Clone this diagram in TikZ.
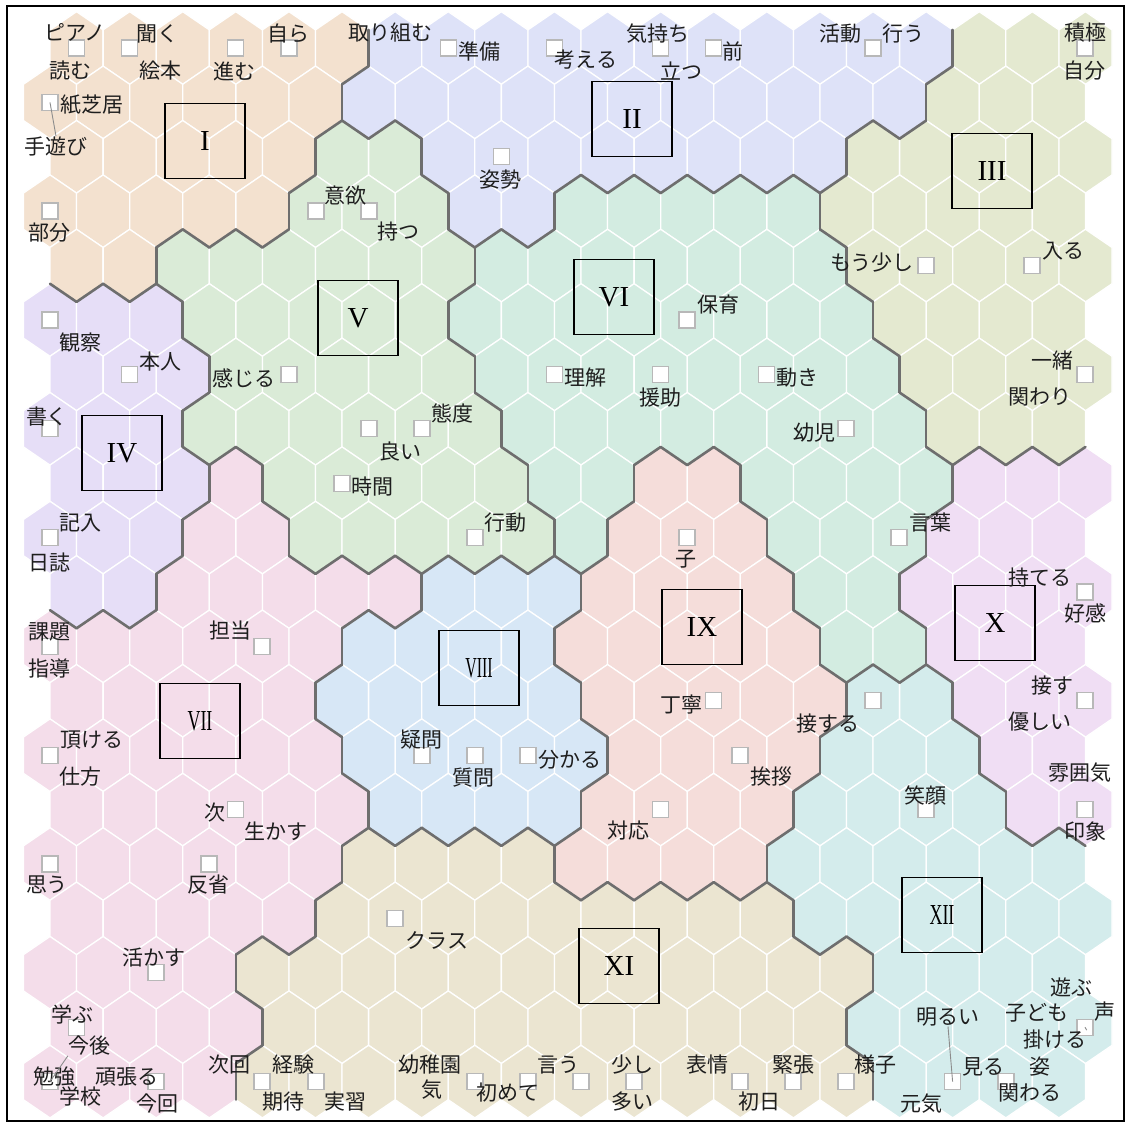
\documentclass[tikz,border=0pt]{standalone}
\usepackage{fontspec}
\setmainfont{Liberation Serif}
\newfontfamily\jp{Noto Sans CJK JP}
\usepackage{graphicx}

\definecolor{k1}{RGB}{243,225,207}
\definecolor{k2}{RGB}{222,226,248}
\definecolor{k3}{RGB}{228,233,208}
\definecolor{k4}{RGB}{230,222,247}
\definecolor{k5}{RGB}{218,235,215}
\definecolor{k6}{RGB}{211,236,225}
\definecolor{k7}{RGB}{244,221,234}
\definecolor{k8}{RGB}{215,231,246}
\definecolor{k9}{RGB}{245,221,218}
\definecolor{k10}{RGB}{240,222,244}
\definecolor{k11}{RGB}{235,229,209}
\definecolor{k12}{RGB}{212,236,236}
\definecolor{bnd}{RGB}{110,110,110}
\definecolor{txt}{RGB}{30,30,30}

\newcommand\setrow[2]{\foreach \v [count=\n] in {#2}{\expandafter\xdef\csname cl@#1@\n\endcsname{\v}}}
\newcommand\getcl[2]{\ifcsname cl@#1@#2\endcsname\csname cl@#1@#2\endcsname\else 0\fi}

\setrow{1}{1,1,1,1,1,1,2,2,2,2,2,2,2,2,2,2,2,3,3,3}
\setrow{2}{1,1,1,1,1,1,2,2,2,2,2,2,2,2,2,2,2,3,3,3}
\setrow{3}{1,1,1,1,1,5,5,2,2,2,2,2,2,2,2,3,3,3,3,3}
\setrow{4}{1,1,1,1,1,5,5,5,2,2,6,6,6,6,6,3,3,3,3,3}
\setrow{5}{1,1,5,5,5,5,5,5,6,6,6,6,6,6,6,3,3,3,3,3}
\setrow{6}{4,4,4,5,5,5,5,5,6,6,6,6,6,6,6,6,3,3,3,3}
\setrow{7}{4,4,4,5,5,5,5,5,6,6,6,6,6,6,6,6,3,3,3,3}
\setrow{8}{4,4,4,5,5,5,5,5,5,6,6,6,6,6,6,6,6,3,3,3}
\setrow{9}{4,4,4,7,5,5,5,5,5,6,6,9,9,6,6,6,6,10,10,10}
\setrow{10}{4,4,4,7,7,5,5,5,5,5,6,9,9,9,6,6,6,10,10,10}
\setrow{11}{4,4,7,7,7,7,7,8,8,8,9,9,9,9,6,6,10,10,10,10}
\setrow{12}{7,7,7,7,7,7,8,8,8,8,9,9,9,9,9,6,6,10,10,10}
\setrow{13}{7,7,7,7,7,8,8,8,8,8,9,9,9,9,9,12,12,10,10,10}
\setrow{14}{7,7,7,7,7,7,8,8,8,8,8,9,9,9,9,12,12,12,10,10}
\setrow{15}{7,7,7,7,7,7,8,8,8,8,9,9,9,9,12,12,12,12,10,10}
\setrow{16}{7,7,7,7,7,7,11,11,11,11,9,9,9,9,12,12,12,12,12,12}
\setrow{17}{7,7,7,7,7,11,11,11,11,11,11,11,11,11,12,12,12,12,12,12}
\setrow{18}{7,7,7,7,11,11,11,11,11,11,11,11,11,11,11,11,12,12,12,12}
\setrow{19}{7,7,7,7,11,11,11,11,11,11,11,11,11,11,11,12,12,12,12,12}
\setrow{20}{7,7,7,7,11,11,11,11,11,11,11,11,11,11,11,11,12,12,12,12}

\tikzset{
  bline/.style={draw=bnd, line width=2.6pt, line cap=round},
  gline/.style={draw=white, line width=1.3pt},
  lbl/.style={font=\jp\fontsize{21}{21}\selectfont, text=txt, inner sep=0pt},
  sq/.style={draw=black!28, fill=white, line width=1.3pt, minimum size=16pt, inner sep=0pt},
  nbox/.style={draw=black, line width=1.1pt, minimum width=80pt, minimum height=75pt, font=\fontsize{29}{29}\selectfont, inner sep=0pt, text=black},
  lead/.style={draw=black!45, line width=0.9pt}
}

\begin{document}
\begin{tikzpicture}[x=1pt,y=1pt]
\useasboundingbox (0,0) rectangle (1128,-1123);
\fill[white] (0,0) rectangle (1128,-1123);
% cells
\foreach \r in {1,...,20}{
  \foreach \cc in {1,...,20}{
    \pgfmathsetmacro\px{50+53.1*(\cc-1)+26.55*mod(\r,2)}
    \pgfmathsetmacro\py{-48-54.4*(\r-1)}
    \edef\kk{\getcl{\r}{\cc}}
    \path[fill=k\kk, gline] (\px,\py) ++(0,36.3) -- ++(26.55,-18.15) -- ++(0,-36.3) -- ++(-26.55,-18.15) -- ++(-26.55,18.15) -- ++(0,36.3) -- cycle;
  }
}
% cluster boundaries
\foreach \r in {1,...,20}{
  \foreach \cc in {1,...,20}{
    \pgfmathsetmacro\px{50+53.1*(\cc-1)+26.55*mod(\r,2)}
    \pgfmathsetmacro\py{-48-54.4*(\r-1)}
    \edef\kk{\getcl{\r}{\cc}}
    \pgfmathtruncatemacro\cnr{\cc+1}
    \pgfmathtruncatemacro\rdn{\r+1}
    \ifodd\r
      \edef\clr{\cnr}\edef\cll{\cc}
    \else
      \edef\clr{\cc}\pgfmathtruncatemacro\cll{\cc-1}
    \fi
    \edef\kr{\getcl{\r}{\cnr}}
    \edef\klr{\getcl{\rdn}{\clr}}
    \edef\kll{\getcl{\rdn}{\cll}}
    \ifnum\kr>0 \ifnum\kr=\kk\relax\else \draw[bline] ({\px+26.55},{\py+18.15}) -- ({\px+26.55},{\py-18.15});\fi\fi
    \ifnum\klr>0 \ifnum\klr=\kk\relax\else \draw[bline] ({\px+26.55},{\py-18.15}) -- ({\px},{\py-36.3});\fi\fi
    \ifnum\kll>0 \ifnum\kll=\kk\relax\else \draw[bline] ({\px},{\py-36.3}) -- ({\px-26.55},{\py-18.15});\fi\fi
  }
}
% frame
\draw[line width=1.6pt] (7,-6) rectangle (1124,-1121);
% cluster boxes
\node[nbox] (b1) at (205,-141) {I};
\node[nbox] (b2) at (632,-119) {II};
\node[nbox] (b3) at (992,-171) {III};
\node[nbox] (b4) at (122,-453) {IV};
\node[nbox] (b5) at (358,-318) {V};
\node[nbox] (b6) at (614,-297) {VI};
\node[nbox] (b7) at (200,-721) {\scalebox{0.62}[1]{VII}};
\node[nbox] (b8) at (479,-668) {\scalebox{0.55}[1]{VIII}};
\node[nbox] (b9) at (702,-627) {IX};
\node[nbox] (b10) at (995,-623) {X};
\node[nbox] (b11) at (619,-966) {XI};
\node[nbox] (b12) at (942,-915) {\scalebox{0.62}[1]{XII}};
% squares
\node[sq] (s1) at (76.5,-48) {};
\node[sq] (s2) at (129.6,-48) {};
\node[sq] (s3) at (235.8,-48) {};
\node[sq] (s4) at (288.9,-48) {};
\node[sq] (s5) at (448.2,-48) {};
\node[sq] (s6) at (554.4,-48) {};
\node[sq] (s7) at (660.6,-48) {};
\node[sq] (s8) at (713.7,-48) {};
\node[sq] (s9) at (872.9,-48) {};
\node[sq] (s10) at (1085,-48) {};
\node[sq] (s11) at (50,-102.4) {};
\node[sq] (s12) at (50,-211) {};
\node[sq] (s13) at (316,-211) {};
\node[sq] (s14) at (369,-211) {};
\node[sq] (s15) at (501.3,-156.8) {};
\node[sq] (s16) at (926,-265.6) {};
\node[sq] (s17) at (1032,-265.6) {};
\node[sq] (s18) at (50,-320) {};
\node[sq] (s19) at (129.6,-374.4) {};
\node[sq] (s20) at (288.9,-374.4) {};
\node[sq] (s21) at (554.4,-374.4) {};
\node[sq] (s22) at (660.6,-374.4) {};
\node[sq] (s23) at (687,-320) {};
\node[sq] (s24) at (766.8,-374.4) {};
\node[sq] (s25) at (846,-428.8) {};
\node[sq] (s26) at (1085,-374.4) {};
\node[sq] (s27) at (50,-428.8) {};
\node[sq] (s28) at (369,-428.8) {};
\node[sq] (s29) at (422,-428.8) {};
\node[sq] (s30) at (342,-483.2) {};
\node[sq] (s31) at (50,-537.6) {};
\node[sq] (s32) at (475,-537.6) {};
\node[sq] (s33) at (687,-537.6) {};
\node[sq] (s34) at (899,-537.6) {};
\node[sq] (s35) at (1085,-592) {};
\node[sq] (s36) at (262,-646.4) {};
\node[sq] (s37) at (50,-646.4) {};
\node[sq] (s38) at (713.7,-700.8) {};
\node[sq] (s39) at (872.9,-700.8) {};
\node[sq] (s40) at (1085,-700.8) {};
\node[sq] (s41) at (50,-755.2) {};
\node[sq] (s42) at (422,-755.2) {};
\node[sq] (s43) at (475,-755.2) {};
\node[sq] (s44) at (528,-755.2) {};
\node[sq] (s45) at (740,-755.2) {};
\node[sq] (s46) at (235.8,-809.6) {};
\node[sq] (s47) at (660.6,-809.6) {};
\node[sq] (s48) at (926,-809.6) {};
\node[sq] (s49) at (1085,-809.6) {};
\node[sq] (s50) at (50,-864) {};
\node[sq] (s51) at (209,-864) {};
\node[sq] (s52) at (395,-918.4) {};
\node[sq] (s53) at (156,-972.8) {};
\node[sq] (s54) at (76.5,-1027.2) {};
\node[sq] (s55) at (1085,-1027.2) {};
\node[sq] (s56) at (50,-1081.6) {};
\node[sq] (s57) at (156,-1081.6) {};
\node[sq] (s58) at (262,-1081.6) {};
\node[sq] (s59) at (316,-1081.6) {};
\node[sq] (s60) at (475,-1081.6) {};
\node[sq] (s61) at (528,-1081.6) {};
\node[sq] (s68) at (581,-1081.6) {};
\node[sq] (s62) at (634,-1081.6) {};
\node[sq] (s63) at (740,-1081.6) {};
\node[sq] (s64) at (793,-1081.6) {};
\node[sq] (s65) at (846,-1081.6) {};
\node[sq] (s66) at (952.6,-1081.6) {};
\node[sq] (s67) at (1006,-1081.6) {};
% labels
\node[lbl] (w1) at (75,-32) {ピアノ};
\node[lbl] (w2) at (70,-71) {読む};
\node[lbl] (w3) at (157,-34) {聞く};
\node[lbl] (w4) at (160,-71) {絵本};
\node[lbl] (w5) at (234,-71) {進む};
\node[lbl] (w6) at (288,-34) {自ら};
\node[lbl] (w7) at (390,-33) {取り組む};
\node[lbl] (w8) at (479,-51) {準備};
\node[lbl] (w9) at (586,-60) {考える};
\node[lbl] (w10) at (658,-34) {気持ち};
\node[lbl] (w11) at (681,-71) {立つ};
\node[lbl] (w12) at (733,-51) {前};
\node[lbl] (w13) at (840,-34) {活動};
\node[lbl] (w14) at (903,-34) {行う};
\node[lbl] (w15) at (1085,-33) {積極};
\node[lbl] (w16) at (1084,-71) {自分};
\node[lbl] (w17) at (92,-105) {紙芝居};
\node[lbl] (w18) at (56,-146) {手遊び};
\node[lbl] (w19) at (49,-233) {部分};
\node[lbl] (w20) at (345,-196) {意欲};
\node[lbl] (w21) at (398,-232) {持つ};
\node[lbl] (w22) at (500,-180) {姿勢};
\node[lbl] (w23) at (872,-263) {もう少し};
\node[lbl] (w24) at (1063,-251) {入る};
\node[lbl] (w25) at (80,-343) {観察};
\node[lbl] (w26) at (160,-362) {本人};
\node[lbl] (w27) at (244,-378) {感じる};
\node[lbl] (w28) at (585,-378) {理解};
\node[lbl] (w29) at (660,-398) {援助};
\node[lbl] (w30) at (718,-305) {保育};
\node[lbl] (w31) at (797,-378) {動き};
\node[lbl] (w32) at (814,-433) {幼児};
\node[lbl] (w33) at (1052,-361) {一緒};
\node[lbl] (w34) at (1040,-397) {関わり};
\node[lbl] (w35) at (930,-523) {言葉};
\node[lbl] (w36) at (47,-417) {書く};
\node[lbl] (w37) at (452,-413) {態度};
\node[lbl] (w38) at (400,-452) {良い};
\node[lbl] (w39) at (372,-487) {時間};
\node[lbl] (w40) at (80,-523) {記入};
\node[lbl] (w41) at (49,-562) {日誌};
\node[lbl] (w42) at (505,-523) {行動};
\node[lbl] (w43) at (686,-559) {子};
\node[lbl] (w44) at (1040,-578) {持てる};
\node[lbl] (w45) at (1085,-613) {好感};
\node[lbl] (w46) at (49,-632) {課題};
\node[lbl] (w47) at (49,-668) {指導};
\node[lbl] (w48) at (230,-631) {担当};
\node[lbl] (w49) at (681,-705) {丁寧};
\node[lbl] (w50) at (828,-724) {接する};
\node[lbl] (w51) at (1052,-686) {接す};
\node[lbl] (w52) at (1040,-722) {優しい};
\node[lbl] (w53) at (92,-740) {頂ける};
\node[lbl] (w54) at (80,-777) {仕方};
\node[lbl] (w55) at (421,-740) {疑問};
\node[lbl] (w56) at (473,-778) {質問};
\node[lbl] (w57) at (570,-760) {分かる};
\node[lbl] (w58) at (771,-777) {挨拶};
\node[lbl] (w59) at (215,-813) {次};
\node[lbl] (w60) at (276,-831) {生かす};
\node[lbl] (w61) at (628,-831) {対応};
\node[lbl] (w62) at (925,-795) {笑顔};
\node[lbl] (w63) at (1080,-773) {雰囲気};
\node[lbl] (w64) at (1085,-832) {印象};
\node[lbl] (w65) at (47,-885) {思う};
\node[lbl] (w66) at (208,-885) {反省};
\node[lbl] (w67) at (437,-940) {クラス};
\node[lbl] (w68) at (154,-958) {活かす};
\node[lbl] (w69) at (72,-1014) {学ぶ};
\node[lbl] (w70) at (89,-1046) {今後};
\node[lbl] (w71) at (54,-1077) {勉強};
\node[lbl] (w72) at (80,-1096) {学校};
\node[lbl] (w73) at (127,-1077) {頑張る};
\node[lbl] (w74) at (157,-1104) {今回};
\node[lbl] (w75) at (229,-1065) {次回};
\node[lbl] (w76) at (293,-1065) {経験};
\node[lbl] (w77) at (283,-1102) {期待};
\node[lbl] (w78) at (345,-1102) {実習};
\node[lbl] (w79) at (430,-1065) {幼稚園};
\node[lbl] (w80) at (432,-1090) {気};
\node[lbl] (w81) at (508,-1093) {初めて};
\node[lbl] (w82) at (558,-1065) {言う};
\node[lbl] (w83) at (632,-1065) {少し};
\node[lbl] (w84) at (632,-1102) {多い};
\node[lbl] (w85) at (707,-1065) {表情};
\node[lbl] (w86) at (759,-1102) {初日};
\node[lbl] (w87) at (793,-1065) {緊張};
\node[lbl] (w88) at (875,-1065) {様子};
\node[lbl] (w89) at (948,-1017) {明るい};
\node[lbl] (w90) at (1071,-987) {遊ぶ};
\node[lbl] (w91) at (1037,-1013) {子ども};
\node[lbl] (w92) at (1105,-1012) {声};
\node[lbl] (w93) at (1055,-1040) {掛ける};
\node[lbl] (w94) at (983,-1067) {見る};
\node[lbl] (w95) at (1040,-1067) {姿};
\node[lbl] (w96) at (921,-1104) {元気};
\node[lbl] (w97) at (1030,-1093) {関わる};
% leader lines
\draw[lead] (s11.center) -- (w18.north);
\draw[lead] (s56.center) -- (w70.south west);
\draw[lead] (s55.center) -- (w93.north east);
\draw[lead] (s66.center) -- (w89.south);
\end{tikzpicture}
\end{document}
